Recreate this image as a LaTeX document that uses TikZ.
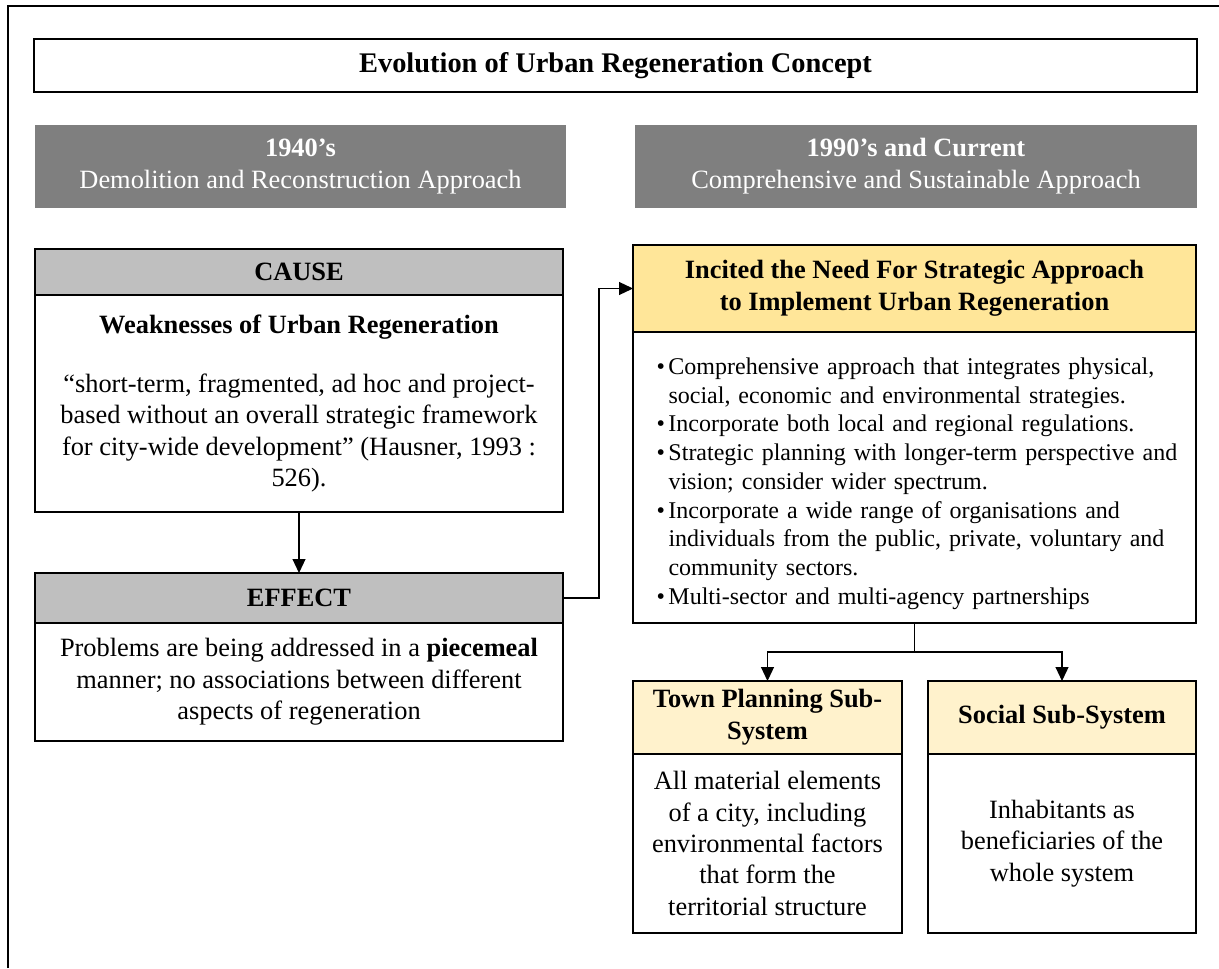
\documentclass[tikz,border=0pt]{standalone}
\usepackage{fontspec}
\setmainfont{Liberation Serif}
\usetikzlibrary{arrows.meta, positioning}
\definecolor{eragray}{HTML}{7F7F7F}
\definecolor{headgray}{HTML}{BFBFBF}
\definecolor{goldhead}{HTML}{FFE699}
\definecolor{goldpale}{HTML}{FFF2CC}
\newcommand{\bul}{\par\noindent\hangindent=6pt\hangafter=1\makebox[6pt][l]{\textbullet}}

\begin{document}
\begin{tikzpicture}[x=0.5pt, y=-0.5pt,
            titlebox/.style={rectangle, draw, line width=1.3pt, minimum width=581.5pt, minimum height=26.5pt, font=\bfseries\fontsize{14.2}{17}\selectfont},
            erabox/.style={rectangle, fill=eragray, text=white, align=center, minimum height=41.5pt, font=\fontsize{13.2}{16}\selectfont},
            headbox/.style={rectangle, draw, line width=0.8pt, outer sep=0pt, align=center, font=\bfseries\fontsize{13.2}{16}\selectfont},
            bodybox/.style={rectangle, draw, line width=0.8pt, outer sep=0pt, align=center, font=\fontsize{13.2}{15.7}\selectfont},
            arrow/.style={-{Triangle[length=7pt, width=6.5pt]}, line width=0.6pt}
        ]
            \useasboundingbox (0,0) rectangle (1219,968);
            \draw[line width=1pt] (8,968) -- (8,6) -- (1219,6);

            \node[titlebox] (title) at (615.5,65.5) {Evolution of Urban Regeneration Concept};

            \node[erabox, minimum width=265.5pt] (eraOld) at (300.5,166.5) {\textbf{1940’s}\\Demolition and Reconstruction Approach};
            \node[erabox, minimum width=281pt] (eraNew) at (916,166.5) {\textbf{1990’s and Current}\\Comprehensive and Sustainable Approach};

            \node[headbox, fill=headgray, minimum width=264pt, minimum height=23pt] (causeH) at (299,272) {CAUSE};
            \node[bodybox, below=0pt of causeH, minimum width=264pt, minimum height=108.5pt] (causeB) {\textbf{Weaknesses of Urban Regeneration}\\[14pt]“short-term, fragmented, ad hoc and project-\\based without an overall strategic framework\\for city-wide development” (Hausner, 1993 :\\526).};

            \node[headbox, fill=headgray, minimum width=264pt, minimum height=25pt] (effH) at (299,598) {EFFECT};
            \node[bodybox, below=0pt of effH, minimum width=264pt, minimum height=59pt] (effB) {Problems are being addressed in a \textbf{piecemeal}\\manner; no associations between different\\aspects of regeneration};

            \node[headbox, fill=goldhead, minimum width=281.5pt, minimum height=43.5pt] (incH) at (914.5,288.5) {Incited the Need For Strategic Approach\\to Implement Urban Regeneration};
            \node[bodybox, below=0pt of incH, minimum width=281.5pt, minimum height=145.5pt, align=left, text width=258pt, font=\fontsize{12}{14.375}\selectfont] (incB) {\bul Comprehensive approach that integrates physical,\newline social, economic and environmental strategies.
            \bul Incorporate both local and regional regulations.
            \bul \mbox{Strategic planning with longer-term perspective and}\newline vision; consider wider spectrum.
            \bul Incorporate a wide range of organisations and\newline individuals from the public, private, voluntary and\newline community sectors.
            \bul Multi-sector and multi-agency partnerships};

            \node[headbox, fill=goldpale, minimum width=134.5pt, minimum height=36.5pt] (townH) at (767.5,717.5) {Town Planning Sub-\\System};
            \node[bodybox, below=0pt of townH, minimum width=134.5pt, minimum height=89.5pt] (townB) {All material elements\\of a city, including\\environmental factors\\that form the\\territorial structure};

            \node[headbox, fill=goldpale, minimum width=134pt, minimum height=36.5pt] (socH) at (1062,717.5) {Social Sub-System};
            \node[bodybox, below=0pt of socH, minimum width=134pt, minimum height=89.5pt] (socB) {Inhabitants as\\beneficiaries of the\\whole system};

            \draw[arrow] (causeB.south) -- (effH.north);
            \draw[arrow] (effH.east) -- ++(36,0) |- (incH.west);
            \draw[arrow] (incB.south) -- ++(0,29) -| (townH.north);
            \draw[arrow] (incB.south) -- ++(0,29) -| (socH.north);

        \end{tikzpicture}
\end{document}
